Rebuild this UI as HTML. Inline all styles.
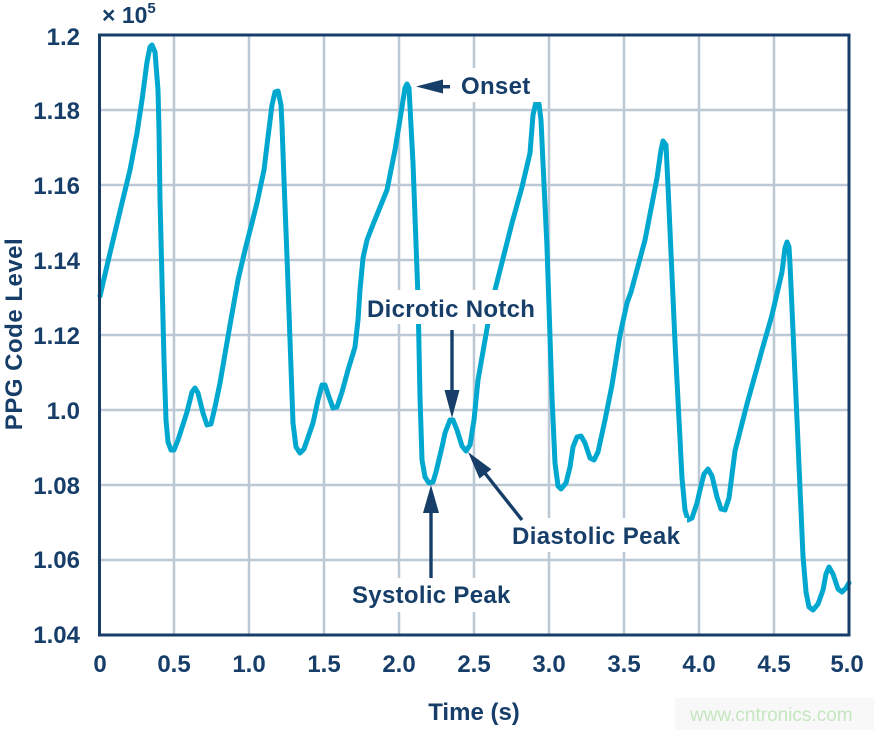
<!DOCTYPE html>
<html>
<head>
<meta charset="utf-8">
<style>
  html, body { margin:0; padding:0; background:#ffffff; }
  svg { display:block; }
  text { font-family: "Liberation Sans", Arial, sans-serif; font-weight: bold; fill:#163e69; }
</style>
</head>
<body>
<svg width="874" height="730" viewBox="0 0 874 730" xmlns="http://www.w3.org/2000/svg">
  <rect x="0" y="0" width="874" height="730" fill="#ffffff"/>

  <!-- gridlines -->
  <g stroke="#bcc8d4" stroke-width="2.5">
    <line x1="174" y1="35" x2="174" y2="635"/>
    <line x1="249" y1="35" x2="249" y2="635"/>
    <line x1="324" y1="35" x2="324" y2="635"/>
    <line x1="399" y1="35" x2="399" y2="635"/>
    <line x1="474" y1="35" x2="474" y2="635"/>
    <line x1="549" y1="35" x2="549" y2="635"/>
    <line x1="624" y1="35" x2="624" y2="635"/>
    <line x1="699" y1="35" x2="699" y2="635"/>
    <line x1="774" y1="35" x2="774" y2="635"/>
    <line x1="99" y1="110" x2="849" y2="110"/>
    <line x1="99" y1="185" x2="849" y2="185"/>
    <line x1="99" y1="260" x2="849" y2="260"/>
    <line x1="99" y1="335" x2="849" y2="335"/>
    <line x1="99" y1="410" x2="849" y2="410"/>
    <line x1="99" y1="485" x2="849" y2="485"/>
    <line x1="99" y1="560" x2="849" y2="560"/>
  </g>

  <!-- PPG curve -->
  <polyline fill="none" stroke="#00a7cf" stroke-width="5" stroke-linejoin="round" stroke-linecap="round"
    points="100,296 110,253 122,203 130,170 137,133 142,100 147,62 150,47 152,45 155,52 158,90 159,130 160,200 162,280 164,360 166,420 168,442 171,450 174,450 178,440 187,412 192,392 195,388 198,393 203,413 207,425 211,424 215,407 220,383 230,325 238,280 245,250 257,203 264,170 268,137 272,105 275,92 278,91 281,105 282,125 284,180 287,257 290,340 293,423 296,447 300,453 304,449 313,423 318,400 322,385 325,385 329,397 333,408 337,407 342,392 348,370 355,347 358,320 360,290 363,258 367,240 372,227 387,190 395,150 402,107 405,88 407,84 409,88 413,163 418,297 420,397 422,460 425,477 429,483 433,482 436,472 442,447 445,433 450,420 453,420 457,430 462,446 466,451 470,445 474,420 478,380 488,323 495,290 512,223 522,187 530,153 533,115 536,102 539,104 541,120 543,163 547,247 552,397 555,463 558,486 561,489 566,483 570,467 573,447 577,437 581,436 585,443 590,458 594,460 598,452 605,420 612,385 620,335 627,303 631,292 645,240 657,178 661,150 663,141 666,145 668,186 675,342 682,478 685,510 688,520 692,518 697,503 700,490 704,474 708,469 712,476 717,497 721,509 725,510 729,498 735,451 747,404 762,350 772,315 782,272 785,248 787,242 789,247 790,264 797,420 803,556 806,592 809,607 813,610 818,604 823,590 826,574 829,567 833,574 838,589 842,592 846,588 849,583"/>

  <!-- label background boxes -->
  <g fill="#ffffff">
    <rect x="454" y="68" width="86" height="34"/>
    <rect x="363" y="290" width="178" height="34"/>
    <rect x="507" y="518" width="180" height="34"/>
    <rect x="347" y="578" width="170" height="34"/>
  </g>

  <!-- annotation texts -->
  <text x="461" y="94" font-size="24" letter-spacing="0.3">Onset</text>
  <text x="367" y="317" font-size="24" letter-spacing="0.3">Dicrotic Notch</text>
  <text x="512" y="544" font-size="24" letter-spacing="0.4">Diastolic Peak</text>
  <text x="352" y="603" font-size="24" letter-spacing="0.3">Systolic Peak</text>

  <!-- arrows -->
  <g fill="#163e69" stroke="none">
    <!-- Onset -->
    <rect x="440" y="85" width="10" height="3.4"/>
    <polygon points="416,86.5 443,79.5 443,93.5"/>
    <!-- Dicrotic Notch -->
    <rect x="450.3" y="330" width="3.4" height="62"/>
    <polygon points="452,418 444.5,390 459.5,390"/>
    <!-- Systolic Peak -->
    <rect x="429.3" y="508" width="3.4" height="70"/>
    <polygon points="431,485 423,513 439,513"/>
    <!-- Diastolic Peak -->
    <polygon points="468,452 479.5,478.6 491.3,469.2"/>
  </g>
  <line x1="484" y1="472" x2="522" y2="520" stroke="#163e69" stroke-width="3.4"/>

  <!-- axes frame -->
  <rect x="99.5" y="35" width="749.5" height="600" fill="none" stroke="#163e69" stroke-width="3"/>

  <!-- y tick labels -->
  <g font-size="24" text-anchor="end">
    <text x="80" y="45">1.2</text>
    <text x="80" y="119">1.18</text>
    <text x="80" y="194">1.16</text>
    <text x="80" y="269">1.14</text>
    <text x="80" y="344">1.12</text>
    <text x="80" y="419">1.0</text>
    <text x="80" y="494">1.08</text>
    <text x="80" y="568">1.06</text>
    <text x="80" y="643">1.04</text>
  </g>

  <!-- x tick labels -->
  <g font-size="24" text-anchor="middle">
    <text x="100" y="672">0</text>
    <text x="174" y="672">0.5</text>
    <text x="249" y="672">1.0</text>
    <text x="324" y="672">1.5</text>
    <text x="399" y="672">2.0</text>
    <text x="474" y="672">2.5</text>
    <text x="549" y="672">3.0</text>
    <text x="624" y="672">3.5</text>
    <text x="699" y="672">4.0</text>
    <text x="774" y="672">4.5</text>
    <text x="847" y="672">5.0</text>
  </g>

  <!-- multiplier -->
  <text x="102" y="23" font-size="23">× 10<tspan font-size="15" dy="-10">5</tspan></text>

  <!-- axis titles -->
  <text x="474" y="720" font-size="24" text-anchor="middle">Time (s)</text>
  <text x="22" y="334" font-size="24" text-anchor="middle" letter-spacing="0.5" transform="rotate(-90 22 334)">PPG Code Level</text>

  <!-- watermark -->
  <rect x="675" y="698" width="199" height="32" fill="#f8f8f8"/>
  <text x="690" y="721" font-size="19" font-weight="normal" style="font-weight:normal;fill:#c6e6c0">www.cntronics.com</text>
</svg>
</body>
</html>
